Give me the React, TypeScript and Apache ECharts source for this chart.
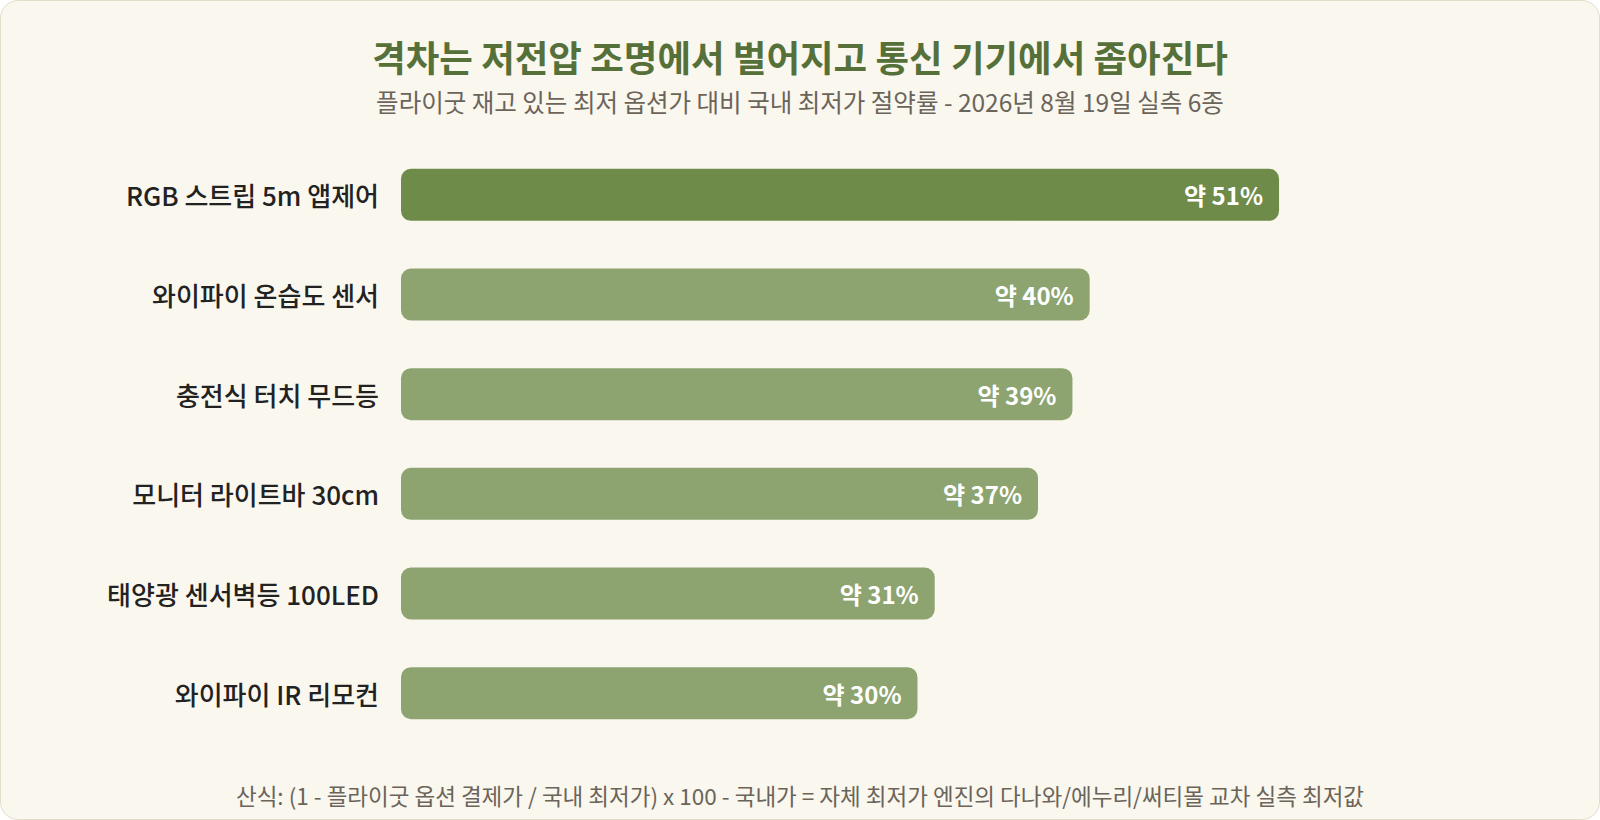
import React, { useEffect, useRef } from 'react';
import * as echarts from 'echarts';

const categories = [
  'RGB 스트립 5m 앱제어',
  '와이파이 온습도 센서',
  '충전식 터치 무드등',
  '모니터 라이트바 30cm',
  '태양광 센서벽등 100LED',
  '와이파이 IR 리모컨',
];
const savings = [51, 40, 39, 37, 31, 30];

const titleText = '격차는 저전압 조명에서 벌어지고 통신 기기에서 좁아진다';
const subtitleText = '플라이굿 재고 있는 최저 옵션가 대비 국내 최저가 절약률 - 2026년 8월 19일 실측 6종';
const footerText = '산식: (1 - 플라이굿 옵션 결제가 / 국내 최저가) x 100 - 국내가 = 자체 최저가 엔진의 다나와/에누리/써티몰 교차 실측 최저값';

const FONT = '"Noto Sans CJK KR", "Noto Sans", sans-serif';

const App: React.FC = () => {
  const chartRef = useRef<HTMLDivElement>(null);

  useEffect(() => {
    document.body.style.margin = '0';
    if (!chartRef.current) return;
    const chart = echarts.init(chartRef.current, undefined, { renderer: 'svg' });

    const option = {
      animation: false,
      textStyle: { fontFamily: FONT },
      title: [
        {
          text: titleText,
          left: 'center',
          top: 32,
          textStyle: { fontSize: 36.5, fontWeight: 'bold', color: '#56703a', fontFamily: FONT },
        },
        {
          text: subtitleText,
          left: 'center',
          top: 83,
          textStyle: { fontSize: 24.5, fontWeight: 'normal', color: '#6a645a', fontFamily: FONT },
        },
        {
          text: footerText,
          left: 'center',
          top: 778,
          textStyle: { fontSize: 22.5, fontWeight: 'normal', color: '#6a645a', fontFamily: FONT },
        },
      ],
      grid: { left: 400, right: 165, top: 144, bottom: 76 },
      xAxis: {
        type: 'value',
        min: 0,
        max: 60,
        show: false,
      },
      yAxis: {
        type: 'category',
        data: categories,
        inverse: true,
        axisLine: { show: false },
        axisTick: { show: false },
        axisLabel: {
          fontSize: 26,
          fontWeight: 500,
          color: '#222222',
          margin: 22,
          fontFamily: FONT,
        },
      },
      series: [
        {
          type: 'bar',
          barWidth: 52,
          data: savings.map((v, i) => ({
            value: v,
            itemStyle: { color: i === 0 ? '#6e8b4a' : '#8da471', borderRadius: 10 },
          })),
          label: {
            show: true,
            position: 'insideRight',
            distance: 16,
            formatter: (p: any) => `약 ${p.value}%`,
            color: '#ffffff',
            fontSize: 24,
            fontWeight: 'bold',
            fontFamily: FONT,
          },
        },
      ],
    };

    chart.setOption(option as any);
    return () => chart.dispose();
  }, []);

  return (
    <div
      style={{
        width: 1600,
        height: 820,
        boxSizing: 'border-box',
        border: '1.5px solid #e2dccb',
        borderRadius: 18,
        background: '#faf7ef',
        overflow: 'hidden',
      }}
    >
      <div ref={chartRef} style={{ width: '100%', height: '100%' }} />
    </div>
  );
};

export default App;
